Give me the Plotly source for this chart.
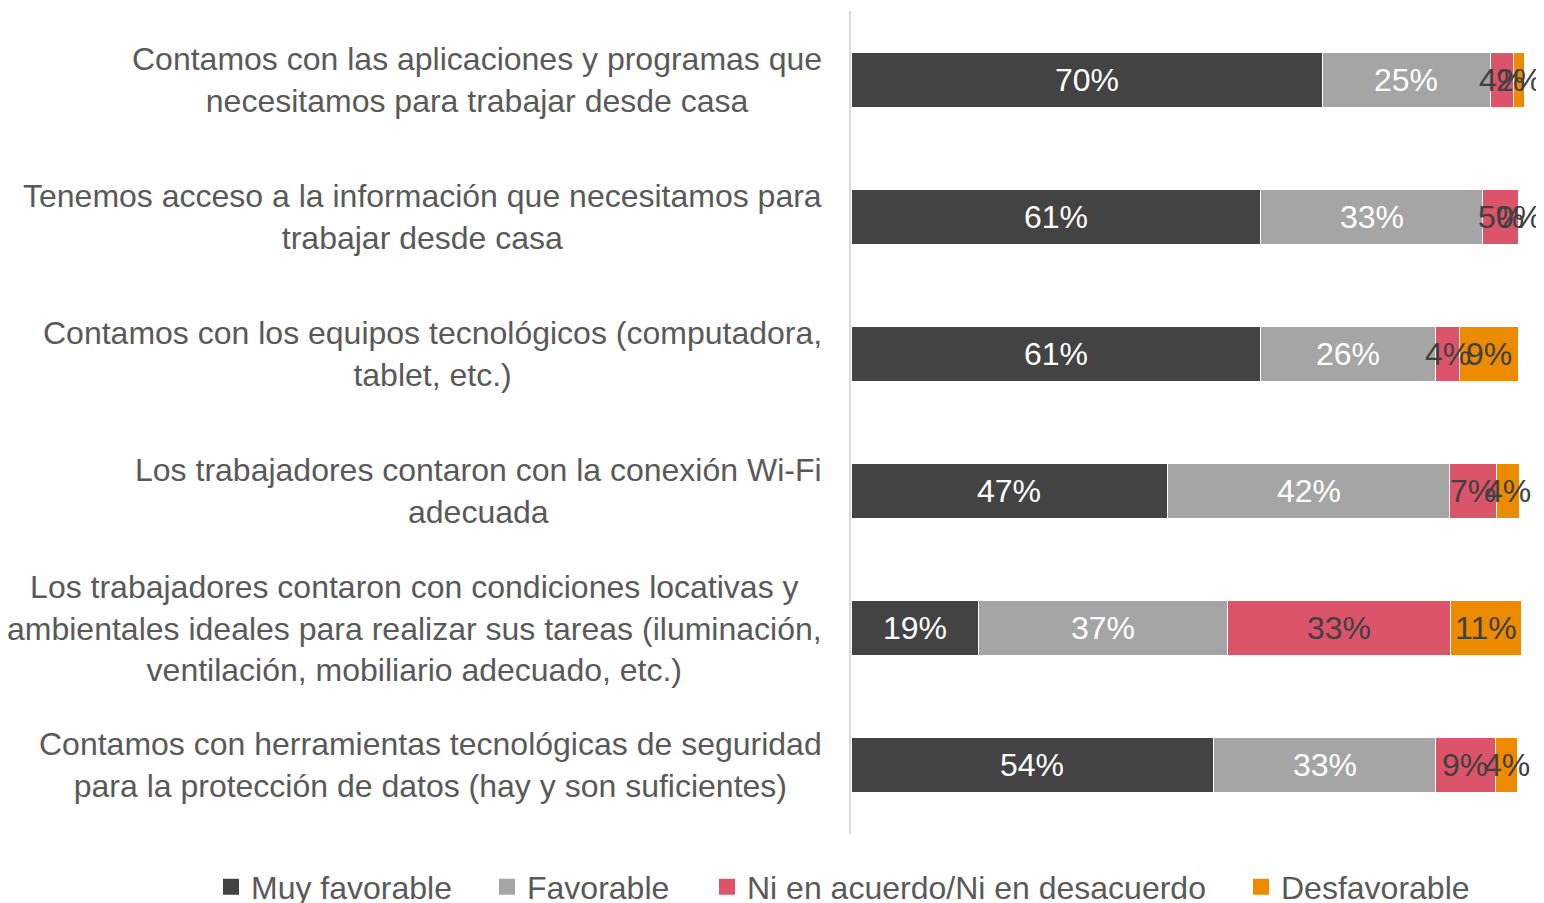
import numpy as np
import plotly.graph_objects as go

categories = [
    "Contamos con las aplicaciones y programas que<br>necesitamos para trabajar desde casa",
    "Tenemos acceso a la información que necesitamos para<br>trabajar desde casa",
    "Contamos con los equipos tecnológicos (computadora,<br>tablet, etc.)",
    "Los trabajadores contaron con la conexión Wi-Fi<br>adecuada",
    "Los trabajadores contaron con condiciones locativas y<br>ambientales ideales para realizar sus tareas (iluminación,<br>ventilación, mobiliario adecuado, etc.)",
    "Contamos con herramientas tecnológicas de seguridad<br>para la protección de datos (hay y son suficientes)",
]

series_names = ["Muy favorable", "Favorable", "Ni en acuerdo/Ni en desacuerdo", "Desfavorable"]

muy_favorable = [70.0, 60.9, 60.9, 47.0, 18.9, 53.9]
favorable = [25.0, 33.0, 26.0, 42.0, 37.1, 33.0]
ni_ni = [3.4, 5.3, 3.5, 6.9, 33.1, 8.8]
desfavorable = [1.8, 0.0, 8.8, 3.5, 10.5, 3.4]

muy_favorable_lbl = ["70%", "61%", "61%", "47%", "19%", "54%"]
favorable_lbl = ["25%", "33%", "26%", "42%", "37%", "33%"]
ni_ni_lbl = ["4%", "5%", "4%", "7%", "33%", "9%"]
desfavorable_lbl = ["2%", "0%", "9%", "4%", "11%", "4%"]

colors = ["#434343", "#A5A5A5", "#DC546A", "#ED8B00"]
text_colors = ["#FFFFFF", "#FFFFFF", "#404040", "#404040"]
values = [muy_favorable, favorable, ni_ni, desfavorable]
labels = [muy_favorable_lbl, favorable_lbl, ni_ni_lbl, desfavorable_lbl]
legend_ids = ["legend", "legend2", "legend3", "legend4"]

FONT = "Liberation Sans, Arial, sans-serif"
W, H = 1536, 895  # page body has an 8px margin

fig = go.Figure()

# stacked bars
for name, vals, col in zip(series_names, values, colors):
    fig.add_trace(go.Bar(
        y=categories, x=vals, name=name, orientation="h",
        marker=dict(color=col, line=dict(color="#FFFFFF", width=1)),
        showlegend=False, hoverinfo="skip",
    ))

# legend entries (square markers, one legend per entry)
for name, col, lid in zip(series_names, colors, legend_ids):
    fig.add_trace(go.Scatter(
        x=[None], y=[None], mode="markers", name=name,
        marker=dict(symbol="square", size=16, color=col),
        legend=lid, hoverinfo="skip",
    ))

# segment labels drawn on top of all bars, centred on each segment
starts = np.cumsum([np.zeros(len(categories))] + [np.array(v) for v in values[:-1]], axis=0)
for vals, lbls, start, tcol in zip(values, labels, starts, text_colors):
    mid = start + np.array(vals) / 2.0
    for xm, cat, lbl in zip(mid, categories, lbls):
        fig.add_annotation(
            x=xm, xref="x", y=cat, yref="y", text=lbl, showarrow=False,
            xanchor="center", yanchor="middle", yshift=0,
            font=dict(color=tcol, size=32, family=FONT),
        )

# category labels (centred lines, block right-aligned next to the axis)
for cat in categories:
    fig.add_annotation(
        x=0, xref="paper", y=cat, yref="y", xanchor="right", yanchor="middle",
        xshift=-27, text=cat, showarrow=False, align="center",
        font=dict(size=32, color="#595959", family=FONT),
    )

legend_text_x = [251, 527, 747, 1281]  # where each legend entry text begins
legend_common = dict(orientation="h", xref="container", yref="container",
                     y=16 / H, yanchor="middle", xanchor="left",
                     font=dict(size=32, color="#595959", family=FONT),
                     bgcolor="rgba(0,0,0,0)", borderwidth=0)
layout_legends = {}
for lid, tx in zip(legend_ids, legend_text_x):
    layout_legends[lid] = dict(legend_common, x=(tx - 8 - 40) / W)

fig.update_layout(
    width=W, height=H,
    margin=dict(l=843, r=20, t=3, b=69, pad=0),
    plot_bgcolor="white", paper_bgcolor="white",
    barmode="stack", bargap=0.6,
    showlegend=True,
    xaxis=dict(range=[0, 100], visible=False, fixedrange=True),
    yaxis=dict(autorange="reversed", showticklabels=False, ticks="",
               showline=True, linecolor="#D9D9D9", linewidth=2,
               showgrid=False, zeroline=False),
    font=dict(family=FONT),
    **layout_legends,
)

fig.write_html(
    "out.html",
    post_script="document.documentElement.style.overflow='hidden';document.body.style.overflow='hidden';",
)
